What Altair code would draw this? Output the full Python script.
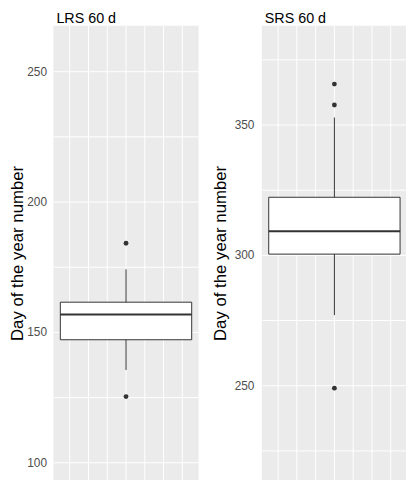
import altair as alt
import pandas as pd

# ---- data ----
panels = ["LRS 60 d", "SRS 60 d"]
whisker_low = [135.4, 276.9]
q1 = [147.0, 300.3]
median = [156.7, 309.1]
q3 = [161.4, 322.1]
whisker_high = [174.0, 352.7]
outliers = [[184.0, 125.2], [365.5, 357.5, 248.9]]
y_domains = [[93.18, 267.42], [213.64, 387.88]]
y_grid = [[100, 125, 150, 175, 200, 225, 250], [225, 250, 275, 300, 325, 350, 375]]
x_grid = [-3, -2, -1, 0, 1, 2, 3]

X_DOMAINS = [[-73.5 / 19, 73.5 / 19], [-73.5 / 19, 72.5 / 19]]
BOX_HALF = 3.5
YTITLE = "Day of the year number"
FONT = "Liberation Sans"
INK = "#333333"


def panel(i, width, label_pad, title_pad):
    box_df = pd.DataFrame({
        "x": [0.0], "xl": [-BOX_HALF], "xr": [BOX_HALF],
        "lo": [whisker_low[i]], "q1": [q1[i]], "med": [median[i]],
        "q3": [q3[i]], "hi": [whisker_high[i]],
    })
    out_df = pd.DataFrame({"x": [0.0] * len(outliers[i]), "y": outliers[i]})
    grid_df = pd.DataFrame({"gx": x_grid})

    xs = alt.Scale(domain=X_DOMAINS[i], nice=False, zero=False)
    ys = alt.Scale(domain=y_domains[i], nice=False, zero=False)
    xaxis = alt.Axis(labels=False, ticks=False, domain=False, grid=False)
    yaxis = alt.Axis(values=y_grid[i],
                     labelExpr="datum.value % 50 == 0 ? datum.label : ''",
                     ticks=False, domain=False, gridColor="white", gridWidth=1,
                     labelPadding=label_pad, titlePadding=title_pad,
                     labelFontSize=12, labelColor="#4D4D4D", labelFont=FONT,
                     titleFontSize=17, titleFont=FONT, titleFontWeight="normal",
                     titleColor="black")

    vgrid = alt.Chart(grid_df).mark_rule(color="white", strokeWidth=1).encode(
        x=alt.X("gx:Q", scale=xs, axis=xaxis, title=None),
    )
    base = alt.Chart(box_df)
    whisker = base.mark_rule(color=INK, strokeWidth=1).encode(
        x=alt.X("x:Q", title=None),
        y=alt.Y("lo:Q", scale=ys, axis=yaxis, title=YTITLE),
        y2="hi:Q",
    )
    box = base.mark_rect(fill="white", stroke=INK, strokeWidth=1).encode(
        x=alt.X("xl:Q", title=None), x2="xr:Q",
        y=alt.Y("q1:Q", title=YTITLE), y2="q3:Q",
    )
    med = base.mark_rule(color=INK, strokeWidth=2).encode(
        x=alt.X("xl:Q", title=None), x2="xr:Q",
        y=alt.Y("med:Q", title=YTITLE),
    )
    pts = alt.Chart(out_df).mark_circle(size=24, color=INK, opacity=1).encode(
        x=alt.X("x:Q", title=None),
        y=alt.Y("y:Q", title=YTITLE),
    )
    return alt.layer(vgrid, whisker, box, med, pts).properties(
        width=width, height=460,
        title=alt.TitleParams(panels[i], anchor="start", frame="group",
                              fontSize=14.5, font=FONT, fontWeight="normal",
                              color="black", offset=-1, dx=3),
    )


chart = alt.hconcat(panel(0, 147, 7, 0), panel(1, 146, 8, 5), spacing=12).properties(
    padding={"left": 0, "top": 0, "right": 0, "bottom": 0}
).configure_view(fill="#EBEBEB", stroke=None)

chart.save("out.html", embed_options={"renderer": "svg", "actions": False})
